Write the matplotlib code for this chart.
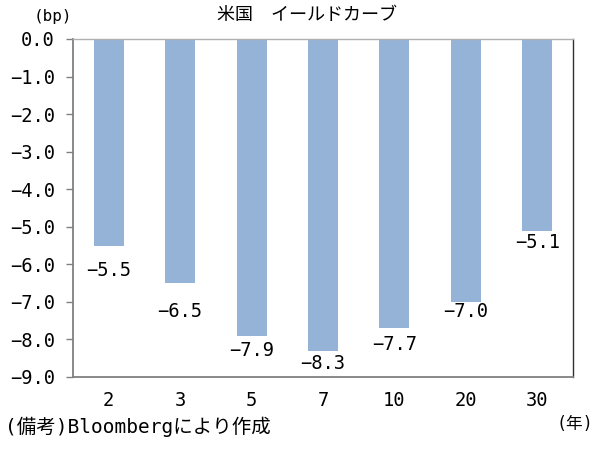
import matplotlib
matplotlib.use("Agg")
import matplotlib.pyplot as plt

plt.rcParams['font.family'] = ['DejaVu Sans Mono', 'Noto Sans CJK JP']

categories = ["2", "3", "5", "7", "10", "20", "30"]
values = [-5.5, -6.5, -7.9, -8.3, -7.7, -7.0, -5.1]
yticks = [0.0, -1.0, -2.0, -3.0, -4.0, -5.0, -6.0, -7.0, -8.0, -9.0]

# gap (px) between bar end and label, as placed in the original
label_gaps = [16, 20, 6, 4, 8, 1, 3]

def fmt(v):
    return f"{v:.1f}".replace("-", "\u2212")

fig = plt.figure(figsize=(6.14, 4.5), dpi=100)
ax = fig.add_axes([73/614, 73/450, 500/614, 338/450])

x = range(len(categories))
ax.bar(x, values, width=0.42, color="#95B3D7", zorder=2)
ax.set_xlim(-0.5, len(categories) - 0.5)
ax.set_ylim(-9.0, 0.0)
ax.set_yticks(yticks)
ax.set_yticklabels([fmt(v) for v in yticks], fontsize=13.5)
ax.set_xticks(list(x))
ax.set_xticklabels(categories, fontsize=13.5)
ax.tick_params(axis='x', length=0, pad=10)
ax.tick_params(axis='y', length=5, width=1.0, direction='out', pad=8, color="#808080")

ax.spines['top'].set_color("#B0B0B0")
ax.spines['top'].set_linewidth(1.0)
ax.spines['right'].set_color("#303030")
ax.spines['right'].set_linewidth(1.0)
for s in ['left', 'bottom']:
    ax.spines[s].set_color("#808080")
    ax.spines[s].set_linewidth(1.3)

for i, v in enumerate(values):
    ax.annotate(fmt(v), xy=(i, v), xytext=(0, -(label_gaps[i] - 1) * 0.72),
                textcoords='offset points', ha='center', va='top', fontsize=13.5)

fig.text(0.5, 1 - 15/450, "米国　イールドカーブ", ha='center', va='center', fontsize=13)
fig.text(53/614, 1 - 16/450, "(bp)", ha='center', va='center', fontsize=11.5)
fig.text(575/614, 1 - 424/450, "(年)", ha='center', va='center', fontsize=12)
fig.text(5/614, 1 - 427/450, "(備考)Bloombergにより作成", ha='left', va='center', fontsize=14)

fig.savefig("out.png", dpi=100)
